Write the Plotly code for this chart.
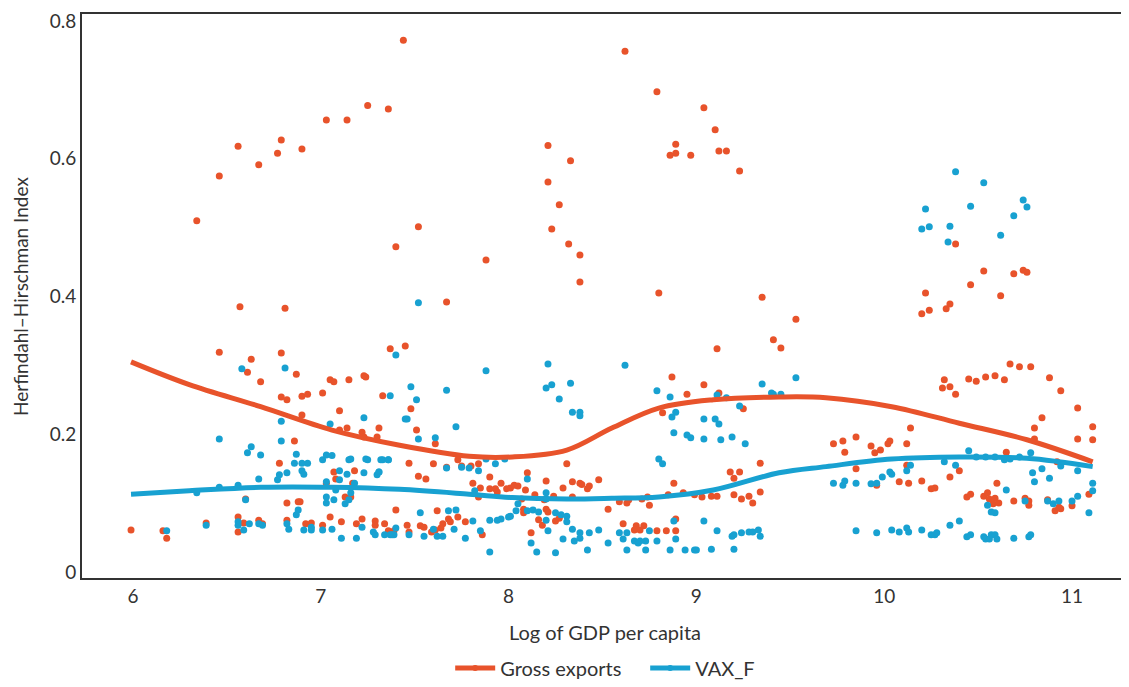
import plotly.graph_objects as go

ORANGE = "#E8532B"
BLUE = "#18A1D1"

gross_x = [6.34,6.46,6.56,6.67,6.77,6.79,6.90,7.03,7.14,7.25,7.36,7.44,7.40,7.52,7.88,7.67,8.21,8.33,8.21,8.27,
 8.23,8.32,8.38,8.38,8.62,8.79,9.04,9.10,8.89,8.86,8.89,8.97,9.12,9.16,9.23,8.80,9.35,10.38,10.53,10.69,
 10.74,10.76,10.46,10.22,10.62,10.20,10.24,10.33,10.35,9.53,9.41,9.45,10.32,10.31,10.35,10.38,10.45,10.49,10.54,10.59,
 10.64,10.67,10.72,10.78,10.88,10.94,11.03,10.84,10.80,10.80,11.11,11.11,11.03,10.14,10.12,10.03,10.02,9.98,9.95,9.93,
 9.85,9.78,9.73,9.79,9.85,10.12,9.96,10.08,10.13,10.20,10.25,10.27,10.35,10.40,10.65,10.60,10.44,10.46,10.53,10.55,
 10.56,10.59,10.58,10.61,10.69,10.75,10.77,10.77,10.87,10.91,10.93,10.94,11.00,11.09,10.92,9.34,9.34,
 7.37,7.45,7.33,7.31,7.48,7.51,7.61,7.47,7.52,7.56,7.60,7.67,7.73,7.75,7.80,7.84,7.81,7.85,7.84,7.90,
 7.90,7.93,7.94,7.96,7.99,8.01,8.03,8.05,8.09,8.10,8.07,8.14,8.19,8.20,8.24,8.29,8.34,8.31,8.38,8.39,
 8.42,8.43,8.48,8.34,8.08,8.08,8.20,8.21,8.25,8.18,8.16,8.12,8.27,8.53,8.59,8.63,8.64,8.61,8.68,8.67,
 8.70,8.72,8.71,8.74,8.75,8.79,8.87,8.82,8.95,9.04,9.12,9.11,9.25,8.88,8.85,8.93,8.99,9.03,9.08,9.11,
 9.20,9.24,9.28,9.30,9.18,9.23,9.20,8.89,8.89,8.84,7.62,7.68,7.69,7.73,7.77,7.86,7.65,7.64,7.61,7.59,
 7.53,7.55,7.46,7.47,7.40,7.34,7.36,7.39,
 5.99,6.16,6.18,6.39,6.46,6.57,6.81,6.63,6.61,6.68,6.79,6.87,6.79,6.82,6.90,6.93,6.90,7.01,7.05,7.07,
 7.15,7.23,7.24,7.10,7.14,7.10,7.22,7.23,7.30,6.86,6.78,7.07,7.18,7.17,7.03,6.60,6.82,6.88,6.89,7.13,
 7.16,6.56,6.59,6.56,6.67,6.69,6.82,6.92,6.95,7.01,7.05,7.11,7.19,7.22,7.29,7.29,7.08]
gross_y = [0.510,0.575,0.618,0.591,0.608,0.627,0.614,0.656,0.656,0.677,0.672,0.772,0.472,0.501,0.453,0.392,0.619,0.597,0.566,0.533,
 0.498,0.476,0.460,0.421,0.756,0.697,0.674,0.642,0.621,0.605,0.608,0.605,0.611,0.611,0.582,0.405,0.399,0.476,0.437,0.433,
 0.438,0.435,0.417,0.405,0.401,0.375,0.380,0.382,0.389,0.367,0.337,0.325,0.279,0.267,0.269,0.258,0.280,0.277,0.283,0.285,
 0.279,0.302,0.298,0.298,0.282,0.263,0.238,0.224,0.209,0.193,0.211,0.192,0.193,0.209,0.186,0.190,0.186,0.177,0.173,0.183,
 0.196,0.190,0.186,0.174,0.150,0.155,0.126,0.131,0.129,0.132,0.121,0.122,0.138,0.147,0.174,0.129,0.109,0.113,0.110,0.115,
 0.106,0.107,0.099,0.100,0.103,0.107,0.103,0.097,0.105,0.089,0.094,0.092,0.096,0.113,0.160,0.158,0.116,
 0.324,0.328,0.256,0.209,0.237,0.206,0.186,0.158,0.139,0.135,0.157,0.152,0.163,0.154,0.154,0.157,0.129,0.122,0.109,0.138,
 0.121,0.121,0.116,0.129,0.121,0.122,0.126,0.125,0.119,0.144,0.106,0.112,0.105,0.132,0.110,0.122,0.131,0.157,0.129,0.127,
 0.121,0.125,0.134,0.109,0.091,0.086,0.091,0.087,0.074,0.068,0.076,0.057,0.078,0.091,0.102,0.100,0.105,0.070,0.067,0.061,
 0.061,0.067,0.106,0.109,0.097,0.060,0.283,0.231,0.258,0.272,0.260,0.324,0.237,0.129,0.112,0.115,0.112,0.109,0.110,0.110,
 0.112,0.106,0.110,0.100,0.145,0.145,0.136,0.077,0.060,0.060,0.089,0.077,0.073,0.080,0.073,0.054,0.070,0.064,0.061,0.058,
 0.067,0.065,0.068,0.058,0.090,0.070,0.060,0.060,
 0.061,0.060,0.049,0.071,0.319,0.385,0.383,0.309,0.290,0.276,0.318,0.287,0.254,0.250,0.255,0.258,0.228,0.260,0.279,0.276,
 0.279,0.285,0.283,0.234,0.209,0.206,0.203,0.196,0.196,0.190,0.158,0.145,0.147,0.129,0.129,0.106,0.100,0.102,0.102,0.109,
 0.109,0.080,0.071,0.058,0.075,0.070,0.075,0.070,0.071,0.068,0.080,0.073,0.070,0.077,0.074,0.068,0.135]

vax_x = [6.18,6.34,6.39,6.46,6.46,6.56,6.58,6.61,6.63,6.68,6.67,6.56,6.56,6.59,6.60,6.62,6.67,6.69,6.81,6.79,
 6.79,6.87,6.86,6.90,6.93,6.90,6.91,6.77,6.78,6.82,6.88,6.87,6.82,6.83,6.91,6.95,6.95,7.01,7.03,7.06,
 7.05,7.03,7.08,7.10,7.10,7.14,7.15,7.16,7.23,7.24,7.25,7.23,7.30,7.31,7.33,7.36,7.37,7.40,7.03,7.03,
 7.07,7.13,7.15,7.16,7.18,7.01,7.06,7.11,7.19,7.22,7.28,7.29,7.34,7.37,7.39,7.40,
 7.52,7.48,7.51,7.67,7.45,7.46,7.52,7.61,7.72,7.32,7.36,7.31,7.67,7.75,7.79,7.84,7.88,7.93,7.98,7.88,
 8.21,8.20,8.23,8.33,8.27,8.34,8.38,8.38,8.10,7.82,8.05,8.04,8.01,8.00,7.96,7.94,7.90,7.90,7.81,7.85,
 7.77,7.72,7.68,7.71,7.65,7.62,7.60,7.55,7.53,7.47,7.38,8.10,8.13,8.16,8.20,8.20,8.20,8.21,8.25,8.28,
 8.31,8.31,8.12,8.15,8.25,8.29,8.34,8.35,8.38,8.38,8.42,8.43,8.48,8.53,8.59,8.61,8.63,8.63,8.67,8.69,
 8.70,8.73,8.75,8.73,8.79,8.86,8.89,8.88,8.94,8.99,9.00,9.08,9.20,9.04,9.11,9.19,9.20,9.24,9.28,9.30,
 9.33,9.34,8.62,8.79,8.86,8.87,8.89,8.88,8.95,8.97,9.04,9.04,9.10,9.12,9.13,9.19,9.26,9.11,9.16,9.23,
 9.35,9.40,8.80,8.82,
 9.53,9.41,9.45,9.73,9.78,9.79,9.85,9.93,9.96,9.99,10.03,10.04,10.12,10.14,10.32,10.38,10.45,10.49,10.54,10.59,
 10.64,10.67,10.72,10.78,10.79,10.80,10.84,10.88,10.94,11.03,11.11,11.11,10.65,10.55,10.57,10.59,10.75,10.87,10.90,10.93,
 11.00,11.03,11.09,9.85,9.96,10.04,10.08,10.12,10.13,10.20,10.25,10.27,10.28,10.35,10.40,10.44,10.46,10.53,10.54,10.56,
 10.57,10.59,10.60,10.69,10.77,10.78,
 10.38,10.53,10.74,10.76,10.69,10.46,10.22,10.20,10.24,10.35,10.34,10.62]
vax_y = [0.060,0.115,0.068,0.193,0.123,0.126,0.295,0.173,0.182,0.170,0.135,0.073,0.068,0.061,0.105,0.070,0.070,0.068,0.296,0.219,
 0.190,0.171,0.158,0.158,0.158,0.147,0.142,0.134,0.141,0.144,0.090,0.083,0.070,0.062,0.061,0.061,0.065,0.163,0.170,0.169,
 0.215,0.131,0.119,0.134,0.147,0.142,0.163,0.164,0.224,0.164,0.163,0.144,0.141,0.145,0.163,0.163,0.256,0.315,0.109,0.100,
 0.105,0.099,0.105,0.115,0.129,0.061,0.062,0.049,0.049,0.065,0.058,0.054,0.054,0.054,0.054,0.064,
 0.391,0.269,0.250,0.264,0.222,0.222,0.193,0.195,0.211,0.163,0.163,0.145,0.151,0.152,0.151,0.147,0.164,0.157,0.164,0.292,
 0.302,0.267,0.272,0.274,0.251,0.232,0.232,0.227,0.135,0.118,0.099,0.089,0.081,0.080,0.077,0.075,0.075,0.029,0.074,0.060,
 0.049,0.090,0.089,0.062,0.052,0.052,0.062,0.052,0.086,0.054,0.054,0.089,0.090,0.087,0.115,0.106,0.075,0.060,0.086,0.083,
 0.081,0.073,0.042,0.029,0.028,0.048,0.062,0.045,0.057,0.049,0.032,0.057,0.061,0.042,0.057,0.048,0.032,0.057,0.045,0.042,
 0.045,0.045,0.060,0.032,0.045,0.032,0.048,0.074,0.032,0.032,0.032,0.033,0.033,0.074,0.060,0.052,0.054,0.057,0.058,0.058,
 0.061,0.052,0.300,0.263,0.254,0.225,0.232,0.202,0.199,0.195,0.193,0.222,0.222,0.215,0.192,0.196,0.186,0.257,0.253,0.241,
 0.273,0.260,0.164,0.157,
 0.282,0.258,0.258,0.129,0.126,0.132,0.129,0.128,0.129,0.138,0.145,0.142,0.147,0.155,0.160,0.155,0.176,0.167,0.167,0.167,
 0.163,0.164,0.167,0.173,0.144,0.131,0.150,0.136,0.154,0.147,0.129,0.118,0.119,0.097,0.087,0.086,0.103,0.103,0.099,0.103,
 0.103,0.110,0.086,0.060,0.057,0.061,0.058,0.064,0.058,0.061,0.054,0.054,0.057,0.068,0.074,0.051,0.054,0.051,0.048,0.048,
 0.054,0.054,0.048,0.049,0.051,0.054,
 0.581,0.565,0.540,0.530,0.517,0.531,0.527,0.498,0.501,0.502,0.479,0.489]

# fitted (smoothed) curves
fit_x = [5.99, 6.3, 6.68, 7.06, 7.42, 7.79, 8.02, 8.31, 8.55, 8.80, 9.09, 9.44, 9.69, 10.04, 10.40, 10.76, 11.11]
gross_fit = [0.305, 0.272, 0.240, 0.206, 0.184, 0.168, 0.167, 0.177, 0.209, 0.238, 0.250, 0.254, 0.253, 0.240, 0.216, 0.192, 0.160]
vax_fit = [0.113, 0.118, 0.123, 0.123, 0.120, 0.113, 0.108, 0.106, 0.107, 0.109, 0.119, 0.144, 0.153, 0.164, 0.167, 0.165, 0.153]

fig = go.Figure()
fig.add_trace(go.Scatter(x=gross_x, y=gross_y, mode="markers", marker=dict(color=ORANGE, size=7),
                         showlegend=False, hoverinfo="skip"))
fig.add_trace(go.Scatter(x=vax_x, y=vax_y, mode="markers", marker=dict(color=BLUE, size=7),
                         showlegend=False, hoverinfo="skip"))
fig.add_trace(go.Scatter(x=fit_x, y=gross_fit, mode="lines", line=dict(color=ORANGE, width=5, shape="spline"),
                         showlegend=False, hoverinfo="skip"))
fig.add_trace(go.Scatter(x=fit_x, y=vax_fit, mode="lines", line=dict(color=BLUE, width=5, shape="spline"),
                         showlegend=False, hoverinfo="skip"))
# legend entries (line with a dot)
fig.add_trace(go.Scatter(x=[None], y=[None], mode="lines+markers", name="Gross exports",
                         line=dict(color=ORANGE, width=5), marker=dict(color=ORANGE, size=6)))
fig.add_trace(go.Scatter(x=[None], y=[None], mode="lines+markers", name="VAX_F",
                         line=dict(color=BLUE, width=5), marker=dict(color=BLUE, size=6)))

FONT = "Lato"
TXT = "#333333"
fig.update_layout(
    width=1121, height=679,
    margin=dict(l=74, r=1, t=6, b=109),
    paper_bgcolor="white", plot_bgcolor="white",
    font=dict(family=FONT, size=19, color=TXT),
    legend=dict(orientation="h", xref="paper", x=0.352, xanchor="left",
                yref="container", y=0.028, yanchor="middle",
                font=dict(size=20, color=TXT), itemwidth=40, entrywidth=140),
    xaxis=dict(range=[5.729, 11.298], dtick=1, tick0=6, showgrid=False, zeroline=False,
               showline=True, linecolor="#333333", linewidth=2, mirror=True, ticks="",
               tickfont=dict(size=19), automargin=False),
    yaxis=dict(range=[-0.0087, 0.810], dtick=0.2, tick0=0, showgrid=False, zeroline=False,
               showline=True, linecolor="#333333", linewidth=2, ticks="",
               tickfont=dict(size=19), automargin=False),
    annotations=[
        dict(text="Log of GDP per capita", xref="paper", yref="paper", x=0.5, y=-0.0957,
             xanchor="center", yanchor="middle", showarrow=False, font=dict(size=20, color=TXT)),
        dict(text="Herfindahl\u2013Hirschman Index", xref="paper", yref="paper", x=-0.0593, y=0.5,
             xanchor="center", yanchor="middle", textangle=-90, showarrow=False,
             font=dict(size=19, color=TXT)),
    ],
)
fig.write_html("out.html")
